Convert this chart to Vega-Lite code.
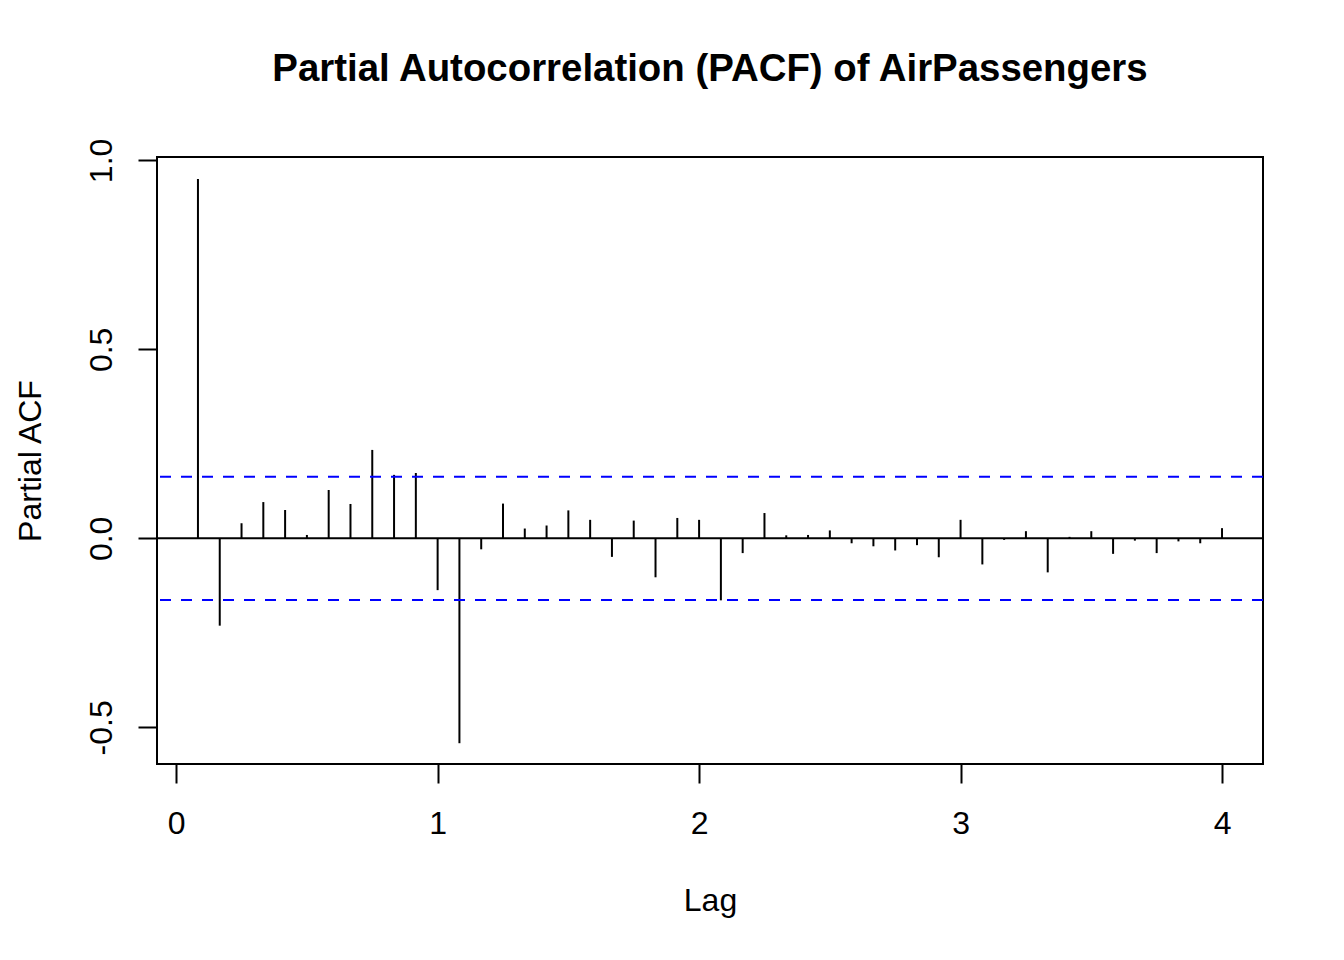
{
  "$schema": "https://vega.github.io/schema/vega-lite/v6.json",
  "width": 1106,
  "height": 607,
  "autosize": {"type": "none"},
  "padding": {"left": 157, "top": 157, "right": 81, "bottom": 196},
  "background": "white",
  "title": {
    "text": "Partial Autocorrelation (PACF) of AirPassengers",
    "font": "Liberation Sans",
    "fontSize": 38.4,
    "fontWeight": "bold",
    "color": "black",
    "anchor": "middle",
    "frame": "group",
    "baseline": "alphabetic",
    "offset": 19
  },
  "config": {
    "view": {"stroke": "black", "strokeWidth": 2},
    "axis": {
      "grid": false,
      "domain": false,
      "ticks": true,
      "tickSize": 19,
      "tickWidth": 2,
      "tickColor": "black",
      "labelFont": "Liberation Sans",
      "labelFontSize": 32,
      "labelColor": "black",
      "labelFlush": false,
      "labelOverlap": false,
      "titleFont": "Liberation Sans",
      "titleFontSize": 32,
      "titleFontWeight": "normal",
      "titleColor": "black"
    }
  },
  "datasets": {
    "pacf": [
      {"lag": 0.083333, "pacf": 0.951},
      {"lag": 0.166667, "pacf": -0.231},
      {"lag": 0.25, "pacf": 0.040},
      {"lag": 0.333333, "pacf": 0.096},
      {"lag": 0.416667, "pacf": 0.075},
      {"lag": 0.5, "pacf": 0.009},
      {"lag": 0.583333, "pacf": 0.128},
      {"lag": 0.666667, "pacf": 0.091},
      {"lag": 0.75, "pacf": 0.234},
      {"lag": 0.833333, "pacf": 0.168},
      {"lag": 0.916667, "pacf": 0.173},
      {"lag": 1.0, "pacf": -0.137},
      {"lag": 1.083333, "pacf": -0.542},
      {"lag": 1.166667, "pacf": -0.029},
      {"lag": 1.25, "pacf": 0.092},
      {"lag": 1.333333, "pacf": 0.026},
      {"lag": 1.416667, "pacf": 0.034},
      {"lag": 1.5, "pacf": 0.074},
      {"lag": 1.583333, "pacf": 0.049},
      {"lag": 1.666667, "pacf": -0.049},
      {"lag": 1.75, "pacf": 0.047},
      {"lag": 1.833333, "pacf": -0.103},
      {"lag": 1.916667, "pacf": 0.054},
      {"lag": 2.0, "pacf": 0.049},
      {"lag": 2.083333, "pacf": -0.164},
      {"lag": 2.166667, "pacf": -0.039},
      {"lag": 2.25, "pacf": 0.067},
      {"lag": 2.333333, "pacf": 0.008},
      {"lag": 2.416667, "pacf": 0.009},
      {"lag": 2.5, "pacf": 0.021},
      {"lag": 2.583333, "pacf": -0.013},
      {"lag": 2.666667, "pacf": -0.021},
      {"lag": 2.75, "pacf": -0.032},
      {"lag": 2.833333, "pacf": -0.018},
      {"lag": 2.916667, "pacf": -0.050},
      {"lag": 3.0, "pacf": 0.049},
      {"lag": 3.083333, "pacf": -0.069},
      {"lag": 3.166667, "pacf": -0.004},
      {"lag": 3.25, "pacf": 0.019},
      {"lag": 3.333333, "pacf": -0.090},
      {"lag": 3.416667, "pacf": 0.004},
      {"lag": 3.5, "pacf": 0.019},
      {"lag": 3.583333, "pacf": -0.041},
      {"lag": 3.666667, "pacf": -0.006},
      {"lag": 3.75, "pacf": -0.039},
      {"lag": 3.833333, "pacf": -0.008},
      {"lag": 3.916667, "pacf": -0.013},
      {"lag": 4.0, "pacf": 0.027}
    ],
    "ci": [
      {"ci": 0.1633},
      {"ci": -0.1633}
    ]
  },
  "layer": [
    {
      "data": {"name": "pacf"},
      "mark": {"type": "rule", "color": "black", "strokeWidth": 2, "strokeCap": "butt"},
      "encoding": {
        "x": {
          "field": "lag",
          "type": "quantitative",
          "scale": {"domain": [-0.0733, 4.1567], "nice": false, "zero": false},
          "axis": {
            "values": [0, 1, 2, 3, 4],
            "format": "d",
            "labelBaseline": "alphabetic",
            "labelPadding": 50,
            "title": "Lag",
            "titleX": 553,
            "titleY": 146,
            "titleAlign": "center",
            "titleAnchor": "middle",
            "titleBaseline": "alphabetic"
          }
        },
        "y": {
          "field": "pacf",
          "type": "quantitative",
          "scale": {"domain": [-0.597, 1.009], "nice": false, "zero": false},
          "axis": {
            "values": [-0.5, 0, 0.5, 1],
            "format": ".1f",
            "labelExpr": "replace(datum.label, '\u2212', '-')",
            "labelAngle": 270,
            "labelAlign": "center",
            "labelBaseline": "alphabetic",
            "labelPadding": 27,
            "title": "Partial ACF",
            "titleAngle": 270,
            "titleX": -117,
            "titleY": 303.5,
            "titleAlign": "center",
            "titleAnchor": "middle",
            "titleBaseline": "alphabetic"
          }
        },
        "y2": {"datum": 0}
      }
    },
    {
      "data": {"values": [{"h": 0}]},
      "mark": {"type": "rule", "color": "black", "strokeWidth": 2},
      "encoding": {
        "y": {"field": "h", "type": "quantitative"}
      }
    },
    {
      "data": {"name": "ci"},
      "mark": {"type": "rule", "color": "#0000FF", "strokeWidth": 2, "strokeDash": [11, 10]},
      "encoding": {
        "y": {"field": "ci", "type": "quantitative"}
      }
    }
  ]
}
